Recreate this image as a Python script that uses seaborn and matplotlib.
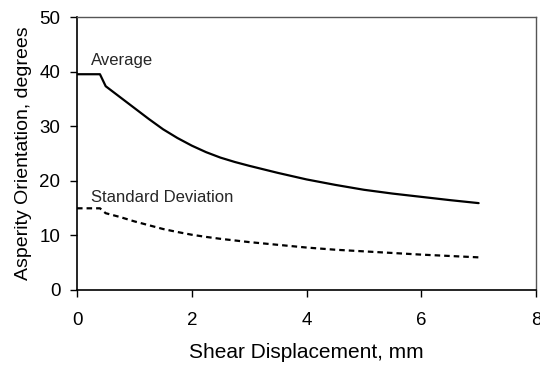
import matplotlib
matplotlib.use("Agg")
import matplotlib.pyplot as plt
import seaborn as sns
import pandas as pd

displacement = [0, 0.4, 0.5, 0.75, 1.0, 1.25, 1.5, 1.75, 2.0, 2.25, 2.5, 2.75, 3.0, 3.5, 4.0, 4.5, 5.0, 5.5, 6.0, 6.5, 7.0]
average = [39.5, 39.5, 37.3, 35.3, 33.3, 31.3, 29.4, 27.8, 26.4, 25.2, 24.2, 23.4, 22.7, 21.4, 20.2, 19.2, 18.3, 17.6, 17.0, 16.4, 15.85]
std_dev = [14.9, 14.9, 14.0, 13.3, 12.5, 11.8, 11.1, 10.55, 10.05, 9.65, 9.3, 9.0, 8.7, 8.2, 7.7, 7.3, 7.0, 6.7, 6.4, 6.15, 5.9]

x_ticks = [0, 2, 4, 6, 8]
y_ticks = [0, 10, 20, 30, 40, 50]

sns.set_theme(style="white")
plt.rcParams["font.family"] = ["Liberation Sans", "DejaVu Sans"]

df = pd.DataFrame({"x": displacement, "avg": average, "sd": std_dev})

fig = plt.figure(figsize=(5.4, 3.68), dpi=100)
ax = fig.add_axes([0.1426, 0.2133, 0.85, 0.7405])

sns.lineplot(data=df, x="x", y="avg", ax=ax, color="black", linewidth=1.6)
sns.lineplot(data=df, x="x", y="sd", ax=ax, color="black", linewidth=1.6,
             linestyle=(0, (2.5, 1.8)))

ax.text(0.24, 41.2, "Average", fontsize=12, ha="left", va="baseline")
ax.text(0.24, 16.0, "Standard Deviation", fontsize=12, ha="left", va="baseline")

ax.set_xlim(0, 8)
ax.set_ylim(0, 50)
ax.set_xticks(x_ticks)
ax.set_yticks(y_ticks)
ax.tick_params(axis="both", direction="out", length=5, width=1, colors="black",
               labelsize=13.5, bottom=True, left=True)
ax.tick_params(axis="x", pad=11)
ax.tick_params(axis="y", pad=7)
ax.set_xlabel("Shear Displacement, mm", fontsize=15, labelpad=10, color="black")
ax.set_ylabel("Asperity Orientation, degrees", fontsize=14, labelpad=5, color="black")
for s in ["left", "bottom"]:
    ax.spines[s].set_color("black")
    ax.spines[s].set_linewidth(1.2)
for s in ["top", "right"]:
    ax.spines[s].set_color("#555555")
    ax.spines[s].set_linewidth(1.0)

fig.savefig("out.png", dpi=100)
